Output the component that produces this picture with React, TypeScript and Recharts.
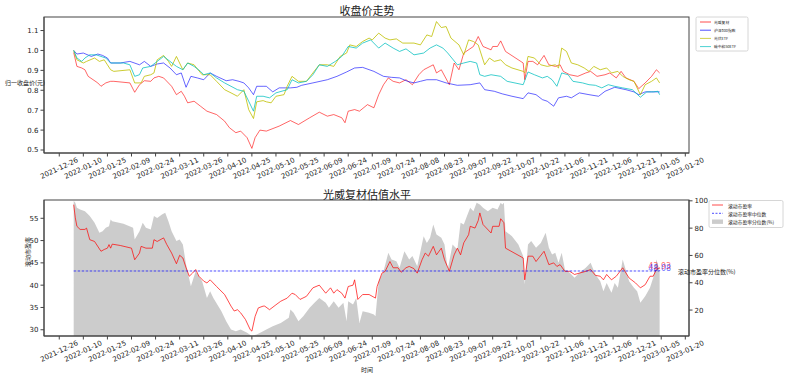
import React from 'react'
import { ComposedChart, Line, Area, XAxis, YAxis, ReferenceDot } from 'recharts'

// x values are days counted from 2022-01-01
const DAY_MS = 86400000
const YEAR_START = Date.UTC(2022, 0, 1)
const X_DOMAIN: [number, number] = [-15.5, 386.3]
const DATE_TICKS = [-6, 9, 24, 39, 54, 69, 84, 99, 114, 129, 144, 159, 174, 189, 204, 219, 234, 249, 264, 279, 294, 309, 324, 339, 354, 369, 384]

const PRICE_TICKS = [0.5, 0.6, 0.7, 0.8, 0.9, 1.0, 1.1]
const PE_TICKS = [30, 35, 40, 45, 50, 55]
const PCT_TICKS = [20, 40, 60, 80, 100]

// normalised close, [day, value]
const GWFC: [number, number][] = [
  [3, 0.99], [5, 0.92], [8, 0.912], [10, 0.903], [12, 0.87], [18, 0.837], [20, 0.82], [23, 0.837], [26, 0.845], [28, 0.845],
  [38, 0.837], [41, 0.79], [44, 0.828], [47, 0.848], [51, 0.845], [53, 0.862], [56, 0.87], [59, 0.862], [64, 0.82], [67, 0.778],
  [70, 0.795], [72, 0.77], [74, 0.737], [78, 0.745], [82, 0.72], [86, 0.695], [92, 0.678], [97, 0.645], [100, 0.612], [104, 0.587],
  [107, 0.595], [111, 0.562], [114, 0.508], [116, 0.562], [119, 0.6], [123, 0.595], [131, 0.62], [138, 0.648], [143, 0.628], [150, 0.662],
  [156, 0.69], [161, 0.67], [165, 0.678], [170, 0.662], [172, 0.637], [174, 0.695], [178, 0.703], [181, 0.695], [186, 0.728], [190, 0.712],
  [193, 0.778], [196, 0.828], [199, 0.862], [202, 0.845], [206, 0.837], [210, 0.853], [214, 0.828], [218, 0.878], [221, 0.903], [227, 0.928],
  [229, 0.887], [232, 0.903], [237, 0.828], [240, 0.937], [243, 0.903], [246, 0.987], [252, 1.02], [255, 1.07], [258, 1.02], [263, 1.003],
  [264, 1.02], [267, 1.02], [269, 1.048], [272, 0.995], [283, 0.937], [284, 0.853], [286, 0.945], [289, 0.945], [292, 0.928], [296, 0.975],
  [299, 0.928], [303, 0.92], [306, 0.928], [308, 0.895], [312, 0.878], [317, 0.87], [322, 0.887], [325, 0.895], [329, 0.87], [334, 0.878],
  [337, 0.887], [341, 0.862], [344, 0.895], [347, 0.862], [352, 0.845], [355, 0.808], [359, 0.837], [363, 0.87], [366, 0.903], [368, 0.887],
]

const HS300: [number, number][] = [
  [3, 1.0], [5, 0.982], [9, 0.987], [14, 0.97], [18, 0.982], [21, 0.975], [24, 0.962], [26, 0.937], [32, 0.937], [38, 0.945],
  [44, 0.928], [47, 0.945], [51, 0.92], [55, 0.932], [59, 0.937], [63, 0.912], [67, 0.878], [70, 0.887], [73, 0.815], [76, 0.87],
  [80, 0.862], [84, 0.853], [88, 0.887], [92, 0.87], [98, 0.848], [102, 0.853], [106, 0.845], [109, 0.837], [112, 0.812], [115, 0.778],
  [117, 0.82], [121, 0.82], [123, 0.82], [127, 0.792], [131, 0.812], [138, 0.812], [142, 0.815], [145, 0.825], [152, 0.837], [161, 0.853],
  [167, 0.87], [173, 0.892], [178, 0.912], [183, 0.915], [190, 0.895], [196, 0.87], [201, 0.865], [206, 0.862], [211, 0.845], [215, 0.837],
  [219, 0.845], [223, 0.853], [229, 0.853], [235, 0.837], [242, 0.825], [250, 0.828], [256, 0.837], [259, 0.803], [265, 0.795], [270, 0.782],
  [276, 0.77], [283, 0.758], [286, 0.787], [291, 0.778], [295, 0.753], [298, 0.745], [302, 0.72], [305, 0.762], [310, 0.77], [313, 0.762],
  [318, 0.787], [324, 0.778], [330, 0.77], [334, 0.795], [340, 0.815], [347, 0.803], [352, 0.792], [355, 0.778], [359, 0.792], [363, 0.792],
  [368, 0.792],
]

const PV_ETF: [number, number][] = [
  [3, 1.0], [5, 0.953], [9, 0.937], [11, 0.945], [16, 0.962], [19, 0.945], [22, 0.953], [24, 0.928], [26, 0.903], [28, 0.895],
  [38, 0.903], [41, 0.837], [45, 0.837], [47, 0.87], [51, 0.878], [53, 0.887], [55, 0.953], [59, 0.975], [62, 0.945], [64, 0.92],
  [67, 0.97], [71, 0.903], [74, 0.937], [78, 0.928], [83, 0.878], [88, 0.878], [92, 0.845], [97, 0.803], [101, 0.787], [105, 0.77],
  [109, 0.803], [112, 0.703], [115, 0.658], [117, 0.742], [121, 0.748], [123, 0.742], [126, 0.737], [129, 0.77], [134, 0.778], [136, 0.82],
  [139, 0.87], [143, 0.845], [148, 0.845], [152, 0.887], [156, 0.928], [161, 0.928], [165, 0.92], [169, 0.97], [173, 0.987], [175, 1.028],
  [179, 1.02], [183, 1.045], [187, 1.062], [189, 1.053], [193, 1.087], [197, 1.062], [200, 1.053], [204, 1.058], [208, 1.037], [215, 1.037],
  [219, 1.028], [223, 1.078], [226, 1.07], [229, 1.145], [232, 1.115], [235, 1.12], [238, 1.062], [243, 1.028], [246, 0.978], [249, 1.053],
  [252, 1.045], [255, 1.028], [259, 0.928], [262, 0.962], [265, 0.945], [269, 0.953], [272, 0.928], [276, 0.912], [283, 0.895], [284, 0.887],
  [286, 0.97], [290, 0.962], [294, 0.928], [298, 0.92], [303, 0.928], [305, 0.912], [307, 1.012], [310, 0.995], [313, 0.937], [317, 0.928],
  [321, 0.912], [324, 0.895], [327, 0.92], [331, 0.903], [335, 0.912], [338, 0.887], [342, 0.895], [345, 0.87], [349, 0.853], [352, 0.845],
  [356, 0.778], [359, 0.828], [363, 0.845], [366, 0.862], [368, 0.837],
]

const TZH_ETF: [number, number][] = [
  [3, 1.0], [5, 0.962], [8, 0.945], [10, 0.962], [13, 0.978], [17, 0.978], [20, 0.97], [23, 0.962], [26, 0.937], [34, 0.937],
  [38, 0.928], [41, 0.87], [44, 0.878], [46, 0.912], [51, 0.92], [55, 0.945], [59, 0.97], [63, 0.945], [67, 0.92], [71, 0.903],
  [74, 0.937], [78, 0.92], [82, 0.895], [84, 0.878], [88, 0.887], [92, 0.862], [97, 0.837], [101, 0.82], [105, 0.803], [109, 0.795],
  [112, 0.745], [115, 0.695], [117, 0.77], [121, 0.77], [125, 0.762], [129, 0.787], [136, 0.803], [139, 0.853], [143, 0.837], [148, 0.845],
  [152, 0.878], [156, 0.928], [161, 0.92], [166, 0.945], [170, 0.97], [174, 1.02], [179, 1.012], [183, 1.037], [188, 1.053], [193, 1.012],
  [197, 1.037], [202, 1.012], [206, 0.995], [210, 1.008], [215, 0.978], [221, 0.987], [225, 1.012], [229, 1.028], [233, 1.012], [236, 0.987],
  [242, 0.928], [246, 0.937], [250, 0.945], [254, 0.937], [256, 0.878], [259, 0.87], [263, 0.878], [269, 0.87], [273, 0.845], [283, 0.828],
  [286, 0.892], [290, 0.878], [295, 0.862], [298, 0.87], [301, 0.853], [304, 0.82], [307, 0.887], [311, 0.878], [314, 0.845], [320, 0.837],
  [324, 0.828], [328, 0.825], [332, 0.812], [336, 0.828], [340, 0.82], [345, 0.812], [351, 0.803], [356, 0.765], [360, 0.792], [364, 0.792],
  [367, 0.795], [368, 0.778],
]

// rolling PE and its percentile, [day, value]
const PE: [number, number][] = [
  [3, 58.05], [4, 55.1], [5, 53.2], [7, 52.5], [10, 52.5], [11, 52.8], [13, 50.2], [16, 49.8], [20, 47.6], [22, 48.0],
  [24, 48.3], [25, 49.1], [26, 48.3], [27, 49.2], [32, 48.9], [39, 48.3], [41, 45.7], [44, 47.2], [45, 48.7], [48, 48.3],
  [52, 48.3], [53, 50.2], [55, 49.8], [59, 50.6], [61, 49.1], [64, 47.2], [67, 44.8], [69, 46.7], [71, 46.1], [73, 43.9],
  [75, 42.0], [77, 42.7], [79, 43.5], [81, 42.0], [84, 40.9], [86, 40.5], [88, 41.2], [92, 39.7], [97, 37.9], [101, 35.3],
  [103, 34.2], [105, 34.5], [107, 33.8], [110, 32.3], [113, 30.0], [114, 29.7], [116, 33.0], [118, 34.9], [121, 35.3], [122, 35.3],
  [125, 34.5], [129, 35.6], [132, 36.4], [136, 37.1], [139, 38.2], [141, 37.9], [144, 36.8], [148, 37.5], [152, 39.4], [156, 40.0],
  [160, 38.2], [163, 39.4], [165, 38.2], [167, 39.0], [170, 38.2], [172, 37.1], [174, 39.7], [177, 40.0], [178, 41.2], [180, 36.8],
  [183, 37.9], [187, 37.9], [191, 37.1], [192, 39.7], [195, 42.7], [197, 43.1], [200, 45.3], [202, 43.9], [205, 43.9], [207, 42.9],
  [210, 43.9], [212, 44.2], [215, 43.7], [217, 42.7], [220, 45.7], [222, 47.2], [224, 46.5], [227, 48.7], [229, 46.8], [232, 48.3],
  [234, 45.7], [237, 43.1], [240, 46.8], [242, 48.3], [244, 46.8], [246, 49.5], [249, 51.3], [250, 53.2], [253, 52.8], [255, 54.5],
  [256, 56.2], [258, 53.6], [263, 51.7], [264, 53.2], [268, 53.2], [269, 54.9], [271, 54.0], [272, 48.3], [283, 46.1], [284, 41.2],
  [286, 46.5], [289, 46.5], [291, 45.3], [296, 47.6], [299, 44.6], [302, 45.0], [304, 44.2], [306, 44.6], [309, 43.1], [312, 43.1],
  [315, 42.4], [318, 42.7], [322, 43.1], [325, 43.5], [328, 42.2], [331, 42.0], [333, 41.2], [335, 42.4], [338, 41.2], [341, 42.0],
  [345, 43.9], [349, 41.6], [353, 40.5], [356, 39.4], [359, 40.1], [362, 42.0], [364, 42.0], [366, 43.5], [368, 43.93],
]

const PE_PCT: [number, number][] = [
  [3, 100], [4, 98.5], [5, 94.9], [7, 93.7], [10, 92.4], [13, 88.8], [16, 83.9], [19, 76.6], [21, 77.8], [23, 80.2],
  [25, 81.4], [26, 86.3], [27, 85.1], [34, 83.2], [40, 80.2], [41, 71.7], [44, 77.8], [46, 83.9], [48, 80.2], [51, 79.0],
  [53, 88.8], [55, 87.5], [58, 90.0], [60, 91.2], [62, 85.1], [64, 77.8], [67, 70.5], [69, 71.7], [71, 68.0], [73, 53.4],
  [76, 37.5], [79, 48.5], [81, 44.8], [83, 41.1], [86, 28.9], [88, 33.8], [90, 28.9], [95, 19.2], [98, 11.8], [101, 5.7],
  [104, 4.5], [107, 5.7], [111, 3.3], [114, 1.0], [117, 2.1], [121, 4.5], [123, 5.7], [127, 8.2], [132, 10.6], [137, 14.3],
  [138, 20.4], [140, 18.0], [143, 11.8], [146, 15.5], [150, 21.6], [153, 25.3], [156, 28.9], [160, 25.3], [162, 21.6], [165, 26.5],
  [168, 21.6], [171, 25.3], [173, 11.8], [174, 26.5], [177, 24.1], [179, 28.9], [181, 10.6], [183, 19.2], [187, 18.0], [190, 16.7],
  [191, 15.5], [193, 41.1], [196, 48.5], [199, 61.9], [201, 57.0], [204, 55.8], [206, 50.9], [209, 63.1], [212, 57.0], [214, 59.5],
  [217, 52.1], [219, 63.1], [221, 74.1], [223, 69.2], [225, 72.9], [227, 82.7], [229, 75.3], [232, 72.9], [234, 68.0], [236, 49.7],
  [239, 68.0], [242, 64.3], [244, 83.9], [246, 82.7], [248, 88.8], [250, 94.9], [252, 92.4], [254, 98.5], [256, 97.3], [258, 94.9],
  [261, 92.4], [264, 94.9], [267, 93.7], [269, 98.5], [270, 97.3], [271, 98.5], [272, 77.8], [276, 74.1], [280, 68.0], [283, 59.5],
  [284, 38.7], [286, 68.0], [288, 70.5], [291, 65.6], [294, 69.2], [297, 76.6], [299, 65.6], [301, 60.7], [303, 61.9], [305, 54.6],
  [307, 61.9], [309, 49.7], [312, 47.3], [315, 43.6], [318, 47.3], [322, 50.9], [325, 54.6], [328, 46.0], [331, 41.1], [333, 33.8],
  [335, 39.9], [338, 32.6], [340, 39.9], [342, 36.3], [345, 57.0], [349, 41.1], [352, 36.3], [354, 33.8], [356, 25.3], [359, 30.2],
  [362, 36.3], [364, 43.6], [366, 57.0], [367, 53.0], [368, 48.08],
]

const PE_MEDIAN = 43.18

const CJK = '"Noto Sans CJK SC", sans-serif'
const NUM = '"DejaVu Sans", sans-serif'
const AXIS = '#444'

function mergeSeries(series: Record<string, [number, number][]>, extra: Record<string, number> = {}) {
  const rows = new Map<number, any>()
  for (const [key, pts] of Object.entries(series)) {
    for (const [d, v] of pts) {
      const row = rows.get(d) ?? { d, ...extra }
      row[key] = v
      rows.set(d, row)
    }
  }
  return [...rows.values()].sort((a, b) => a.d - b.d)
}

const topRows = mergeSeries({ gwfc: GWFC, hs300: HS300, pv: PV_ETF, tzh: TZH_ETF })
const bottomRows = mergeSeries({ pe: PE, pct: PE_PCT }, { median: PE_MEDIAN })
const lastPe = PE[PE.length - 1]
const lastPct = PE_PCT[PE_PCT.length - 1]

function fmtDate(d: number) {
  return new Date(YEAR_START + d * DAY_MS).toISOString().slice(0, 10)
}

function DateTick({ x, y, payload }: any) {
  return (
    <g transform={`translate(${x},${y + 12})`}>
      <text transform="rotate(-25)" textAnchor="middle" dominantBaseline="central" fontSize={7} fontFamily={NUM} fill="#222">
        {fmtDate(payload.value)}
      </text>
    </g>
  )
}

const tickStyle = { fontSize: 7, fill: '#222', fontFamily: NUM }

const TOP_LEGEND = [
  { name: '光威复材', color: '#ff0000' },
  { name: '沪深300指数', color: '#0000ff' },
  { name: '光伏ETF', color: '#bfbf00' },
  { name: '碳中和50ETF', color: '#00bfbf' },
]

function PriceChart() {
  return (
    <ComposedChart width={785} height={190} data={topRows} margin={{ top: 17, right: 96, bottom: 0, left: 14 }}>
      <XAxis dataKey="d" type="number" domain={X_DOMAIN} ticks={DATE_TICKS} interval={0} allowDataOverflow
        tick={<DateTick />} tickSize={3.5} tickMargin={0} height={37} stroke={AXIS} />
      <YAxis type="number" domain={[0.485, 1.168]} ticks={PRICE_TICKS} interval={0} allowDataOverflow width={30}
        tickSize={3.5} tickMargin={2} tick={tickStyle} tickFormatter={(v: number) => v.toFixed(1)} stroke={AXIS} />
      <Line dataKey="gwfc" stroke="#ff0000" strokeOpacity={0.6} strokeWidth={1} dot={false} connectNulls isAnimationActive={false} />
      <Line dataKey="hs300" stroke="#0000ff" strokeOpacity={0.6} strokeWidth={1} dot={false} connectNulls isAnimationActive={false} />
      <Line dataKey="pv" stroke="#bfbf00" strokeOpacity={0.8} strokeWidth={1} dot={false} connectNulls isAnimationActive={false} />
      <Line dataKey="tzh" stroke="#00bfbf" strokeOpacity={0.75} strokeWidth={1} dot={false} connectNulls isAnimationActive={false} />
    </ComposedChart>
  )
}

function PeChart() {
  return (
    <ComposedChart width={785} height={196} data={bottomRows} margin={{ top: 20, right: 66, bottom: 0, left: 14 }}>
      <XAxis dataKey="d" type="number" domain={X_DOMAIN} ticks={DATE_TICKS} interval={0} allowDataOverflow
        tick={<DateTick />} tickSize={3.5} tickMargin={0} height={40} stroke={AXIS} />
      <YAxis yAxisId="pe" type="number" domain={[28.6, 59.1]} ticks={PE_TICKS} interval={0} allowDataOverflow width={30}
        tickSize={3.5} tickMargin={2} tick={tickStyle} stroke={AXIS} />
      <YAxis yAxisId="pct" orientation="right" type="number" domain={[1, 100.6]} ticks={PCT_TICKS} interval={0} allowDataOverflow
        width={30} tickSize={3.5} tickMargin={2} tick={tickStyle} stroke={AXIS} />
      <Area yAxisId="pct" dataKey="pct" type="linear" fill="#cccccc" fillOpacity={1} stroke="none" connectNulls isAnimationActive={false} />
      <Line yAxisId="pe" dataKey="pe" stroke="#ff0000" strokeOpacity={0.7} strokeWidth={1} dot={false} connectNulls isAnimationActive={false} />
      <Line yAxisId="pe" dataKey="median" stroke="#0000ff" strokeOpacity={0.7} strokeWidth={1} strokeDasharray="2.5 1.5" dot={false} isAnimationActive={false} />
      <ReferenceDot yAxisId="pe" x={lastPe[0]} y={lastPe[1]} r={0} fill="none" stroke="none"
        label={{ value: lastPe[1].toFixed(2), position: 'top', offset: -1, fill: '#ff0000', fillOpacity: 0.6, fontSize: 8, fontFamily: NUM }} />
      <ReferenceDot yAxisId="pct" x={lastPct[0]} y={lastPct[1]} r={0} fill="none" stroke="none"
        label={{ value: lastPct[1].toFixed(2), position: 'top', offset: 1, fill: '#0000ff', fillOpacity: 0.6, fontSize: 8, fontFamily: NUM }} />
    </ComposedChart>
  )
}

function Overlay() {
  return (
    <svg width={785} height={376} style={{ position: 'absolute', left: 0, top: 0, pointerEvents: 'none' }}>
      {/* axes frames */}
      <rect x={44} y={17} width={645} height={136} fill="none" stroke={AXIS} strokeWidth={1} />
      <rect x={44} y={200} width={645} height={136} fill="none" stroke={AXIS} strokeWidth={1} />
      <g fontFamily={CJK} fill="#222">
        <text x={367} y={10} fontSize={11} textAnchor="middle" dominantBaseline="central">收盘价走势</text>
        <text x={367} y={194} fontSize={11} textAnchor="middle" dominantBaseline="central">光威复材估值水平</text>
        <text x={5} y={82} fontSize={6} dominantBaseline="central">归一收盘价(元)</text>
        <text x={0} y={0} fontSize={6} textAnchor="middle" dominantBaseline="central" transform="translate(27,252) rotate(-90)">滚动市盈率</text>
        <text x={678} y={271} fontSize={6} dominantBaseline="central">滚动市盈率分位数(%)</text>
        <text x={367} y={369} fontSize={6} textAnchor="middle" dominantBaseline="central">时间</text>
      </g>
      <g>
        <rect x={696} y={17} width={52} height={34} rx={1.5} fill="#fff" fillOpacity={0.8} stroke="#ccc" strokeWidth={0.8} />
        {TOP_LEGEND.map((it, i) => (
          <g key={it.name}>
            <line x1={700} x2={711} y1={22 + i * 8.2} y2={22 + i * 8.2} stroke={it.color} strokeOpacity={0.7} strokeWidth={1} />
            <text x={714} y={22 + i * 8.2} fontSize={3.8} fontFamily={CJK} fill="#222" dominantBaseline="central">{it.name}</text>
          </g>
        ))}
      </g>
      <g>
        <rect x={709} y={200.5} width={74} height={27} rx={1.5} fill="#fff" fillOpacity={0.8} stroke="#ccc" strokeWidth={0.8} />
        <line x1={712} x2={723} y1={205} y2={205} stroke="#ff0000" strokeOpacity={0.7} strokeWidth={1} />
        <line x1={712} x2={723} y1={213.3} y2={213.3} stroke="#0000ff" strokeOpacity={0.7} strokeWidth={1} strokeDasharray="2 1.5" />
        <rect x={712} y={219.5} width={11} height={4.4} fill="#cccccc" />
        <g fontSize={4.8} fontFamily={CJK} fill="#222">
          <text x={728} y={205} dominantBaseline="central">滚动市盈率</text>
          <text x={728} y={213.3} dominantBaseline="central">滚动市盈率中位数</text>
          <text x={728} y={221.7} dominantBaseline="central">滚动市盈率分位数(%)</text>
        </g>
      </g>
    </svg>
  )
}

export default function App() {
  return (
    <div style={{ position: 'absolute', left: 0, top: 0, width: 785, height: 376, background: '#fff' }}>
      <div style={{ position: 'absolute', left: 0, top: 0 }}>
        <PriceChart />
      </div>
      <div style={{ position: 'absolute', left: 0, top: 180 }}>
        <PeChart />
      </div>
      <Overlay />
    </div>
  )
}
